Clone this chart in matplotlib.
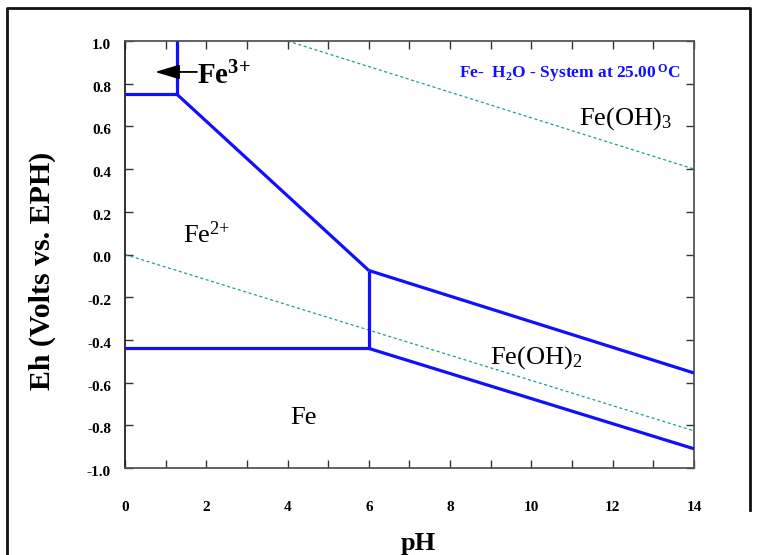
import matplotlib
matplotlib.use("Agg")
import matplotlib.pyplot as plt
from matplotlib.transforms import ScaledTranslation
from matplotlib.lines import Line2D

plt.rcParams['font.family'] = ['Liberation Serif', 'DejaVu Serif']
plt.rcParams['mathtext.fontset'] = 'custom'
plt.rcParams['mathtext.rm'] = 'Liberation Serif'
plt.rcParams['mathtext.bf'] = 'Liberation Serif:bold'
plt.rcParams['mathtext.it'] = 'Liberation Serif:italic'

# ---- data (pH, Eh) ----
fe3_fe2_ph = [0.0, 1.28]
fe3_fe2_eh = [0.75, 0.75]
fe3_top_ph = [1.28, 1.28]
fe3_top_eh = [0.75, 1.0]
fe2_feoh3_ph = [1.28, 6.0]
fe2_feoh3_eh = [0.75, -0.075]
feoh3_feoh2_ph = [6.0, 14.0]
feoh3_feoh2_eh = [-0.075, -0.555]
fe2_feoh2_ph = [6.0, 6.0]
fe2_feoh2_eh = [-0.075, -0.44]
fe_fe2_ph = [0.0, 6.0]
fe_fe2_eh = [-0.44, -0.44]
fe_feoh2_ph = [6.0, 14.0]
fe_feoh2_eh = [-0.44, -0.91]
water_up_ph = [4.0, 14.0]
water_up_eh = [1.0, 0.40]
water_lo_ph = [0.0, 14.0]
water_lo_eh = [0.0, -0.826]

xticks = [0, 2, 4, 6, 8, 10, 12, 14]
yticks = [1.0, 0.8, 0.6, 0.4, 0.2, 0.0, -0.2, -0.4, -0.6, -0.8, -1.0]
ytick_labels = ['1.0', '0.8', '0.6', '0.4', '0.2', '0.0', '-0.2', '-0.4', '-0.6', '-0.8', '-1.0']

W, H = 758, 555
fig = plt.figure(figsize=(W / 100, H / 100), dpi=100)
ax = fig.add_axes([125 / W, 1 - 468 / H, (694 - 125) / W, (468 - 41) / H])

blue = '#1010ff'
lw = 2.3
for xs, ys in [(fe3_fe2_ph, fe3_fe2_eh), (fe3_top_ph, fe3_top_eh),
               (fe2_feoh3_ph, fe2_feoh3_eh), (feoh3_feoh2_ph, feoh3_feoh2_eh),
               (fe2_feoh2_ph, fe2_feoh2_eh), (fe_fe2_ph, fe_fe2_eh),
               (fe_feoh2_ph, fe_feoh2_eh)]:
    ax.plot(xs, ys, color=blue, lw=lw, solid_capstyle='butt', zorder=3)

teal = '#2a9a9a'
for xs, ys in [(water_up_ph, water_up_eh), (water_lo_ph, water_lo_eh)]:
    ax.plot(xs, ys, color=teal, lw=0.9, dashes=(2.5, 2), zorder=2)

ax.set_xlim(0, 14)
ax.set_ylim(-1.0, 1.0)

ax.set_xticks(xticks)
ax.set_xticks(range(0, 15), minor=True)
ax.set_xticklabels([str(t) for t in xticks])
ax.set_yticks(yticks)
ax.set_yticklabels(ytick_labels)

ax.tick_params(axis='x', which='both', direction='in', top=True, bottom=True,
               length=6, width=1, color='#333333', pad=24, labelsize=11)
ax.tick_params(axis='y', which='both', direction='in', left=True, right=True,
               length=6, width=1, color='#333333', pad=10, labelsize=11)
for lbl in ax.get_xticklabels() + ax.get_yticklabels():
    lbl.set_fontweight('bold')
off = ScaledTranslation(0, -3 / 100, fig.dpi_scale_trans)
for lbl in ax.get_yticklabels():
    lbl.set_transform(lbl.get_transform() + off)

for s in ax.spines.values():
    s.set_color('#555555')
    s.set_linewidth(1.3)
ax.spines['left'].set_color('#222222')

# arrow to Fe3+ region
ax.annotate('', xy=(0.74, 0.855), xytext=(1.77, 0.855),
            arrowprops=dict(arrowstyle='-|>,head_length=1.5,head_width=0.45',
                            color='black', lw=1.3, shrinkA=0, shrinkB=0))
ax.text(1.77, 0.795, r'Fe$^{\mathbf{3{+}}}$', fontsize=21, fontweight='bold', ha='left', va='baseline')

ax.text(1.43, 0.054, r'Fe$^{2{+}}$', fontsize=19, ha='left', va='baseline')
ax.text(11.17, 0.61, r'Fe(OH)$_3$', fontsize=19, ha='left', va='baseline')
ax.text(8.98, -0.513, r'Fe(OH)$_2$', fontsize=19, ha='left', va='baseline')
ax.text(4.06, -0.794, 'Fe', fontsize=19, ha='left', va='baseline')
ax.text(13.66, 0.83, r'Fe-  H$_\mathbf{2}$O - System at 25.00$\,^{\mathbf{O}}$C', fontsize=12.5,
        fontweight='bold', color=blue, ha='right', va='baseline')

fig.text(42 / W, 1 - 271 / H, 'Eh (Volts vs. EPH)', rotation=90, fontsize=21.5,
         fontweight='bold', ha='center', va='center')
fig.text(418 / W, 1 - 550 / H, 'pH', fontsize=19, fontweight='bold',
         ha='center', va='baseline')

# outer frame
fx = [6.5 / W, 6.5 / W, 750 / W, 750 / W]
fy = [-0.05, 1 - 7.5 / H, 1 - 7.5 / H, 1 - 510 / H]
fig.add_artist(Line2D(fx, fy, color='#111111', lw=2, transform=fig.transFigure))

fig.savefig('out.png', dpi=100)
